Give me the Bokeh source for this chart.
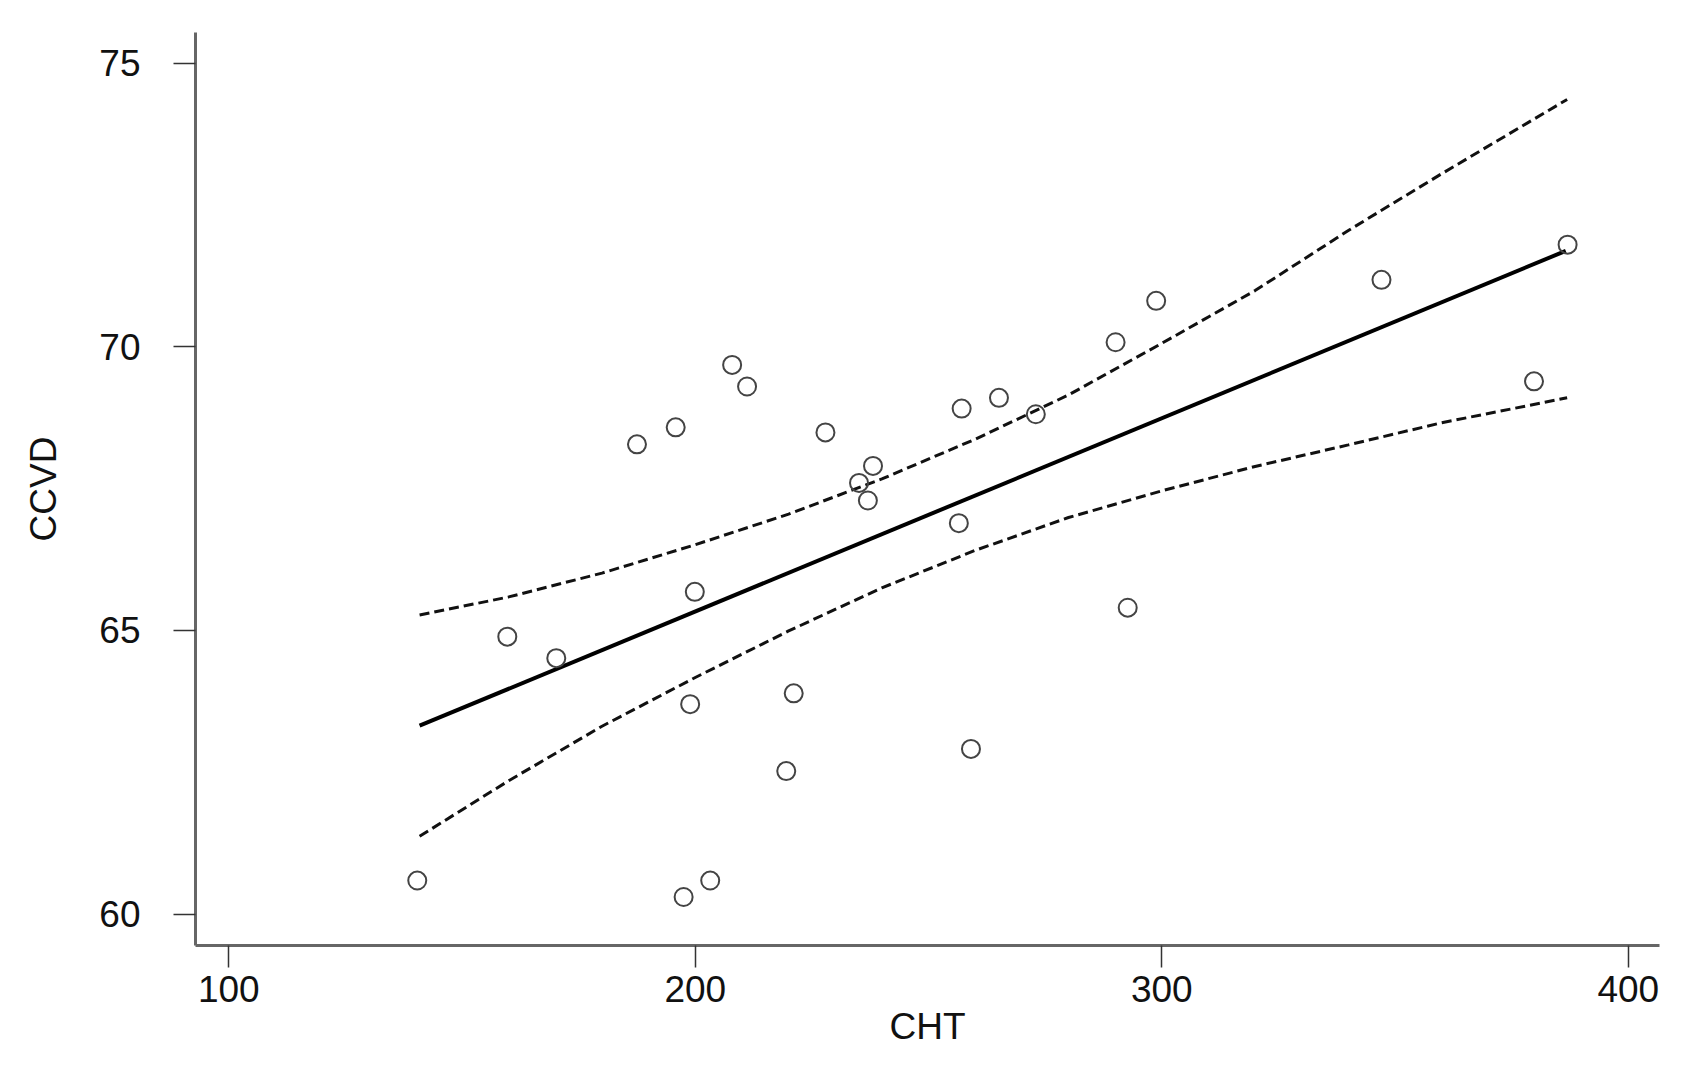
from bokeh.plotting import figure
from bokeh.models import FixedTicker, Range1d
from bokeh.embed import file_html
from bokeh.resources import INLINE

# Scatter data (CHT vs CCVD)
cht = [140.4, 159.7, 170.2, 187.5, 195.8, 197.5, 198.9, 199.9, 203.2, 207.9,
       211.1, 219.5, 221.1, 227.9, 235.1, 237.0, 238.1, 256.5, 257.1, 259.1,
       265.1, 273.0, 290.1, 292.7, 298.8, 347.1, 379.8, 387.0]
ccvd = [60.59, 64.89, 64.51, 68.28, 68.58, 60.30, 63.70, 65.68, 60.59, 69.68,
        69.30, 62.52, 63.89, 68.49, 67.60, 67.29, 67.90, 66.89, 68.91, 62.91,
        69.10, 68.81, 70.08, 65.40, 70.81, 71.18, 69.39, 71.80]

# Fitted regression line (end points)
fit_x = [140.9, 386.6]
fit_y = [63.32, 71.69]

# Confidence band
band_x = [140.9, 160, 180, 200, 220, 240, 260, 280, 300, 320, 340, 360, 386.9]
upper = [65.27, 65.59, 66.01, 66.51, 67.05, 67.67, 68.37, 69.15, 70.06, 70.99, 72.05, 73.05, 74.36]
lower = [61.37, 62.35, 63.31, 64.17, 64.99, 65.75, 66.41, 66.99, 67.46, 67.89, 68.27, 68.66, 69.10]

x_ticks = [100, 200, 300, 400]
y_ticks = [60, 65, 70, 75]

FONT = "Liberation Sans"

p = figure(width=1680, height=1066, output_backend="svg", toolbar_location=None,
           x_range=Range1d(92.86, 406.7), y_range=Range1d(59.445, 75.54),
           min_border_left=195, min_border_right=21, min_border_top=32,
           min_border_bottom=121)
p.outline_line_color = None
p.xgrid.visible = False
p.ygrid.visible = False
p.background_fill_color = "white"
p.border_fill_color = "white"

p.line(band_x, upper, line_color="#111111", line_width=3, line_dash="10 5")
p.line(band_x, lower, line_color="#111111", line_width=3, line_dash="10 5")
p.line(fit_x, fit_y, line_color="black", line_width=4)
p.scatter(cht, ccvd, size=18, fill_color=None, line_color="#444444", line_width=2)

for ax in (p.xaxis[0], p.yaxis[0]):
    ax.axis_line_color = "#666666"
    ax.axis_line_width = 3
    ax.major_tick_line_color = "#333333"
    ax.major_tick_line_width = 1.5
    ax.major_tick_out = 22
    ax.major_tick_in = 0
    ax.minor_tick_line_color = None
    ax.major_label_text_font = FONT
    ax.major_label_text_font_size = "37px"
    ax.major_label_text_color = "#111111"
    ax.axis_label_text_font = FONT
    ax.axis_label_text_font_size = "37px"
    ax.axis_label_text_font_style = "normal"
    ax.axis_label_text_color = "#111111"

p.xaxis.ticker = FixedTicker(ticks=x_ticks)
p.yaxis.ticker = FixedTicker(ticks=y_ticks)
p.xaxis.axis_label = "CHT"
p.yaxis.axis_label = "CCVD"
p.xaxis.major_label_standoff = 8
p.yaxis.major_label_standoff = 33
p.xaxis.axis_label_standoff = 1
p.yaxis.axis_label_standoff = 32

open("out.html", "w").write(file_html(p, INLINE))
